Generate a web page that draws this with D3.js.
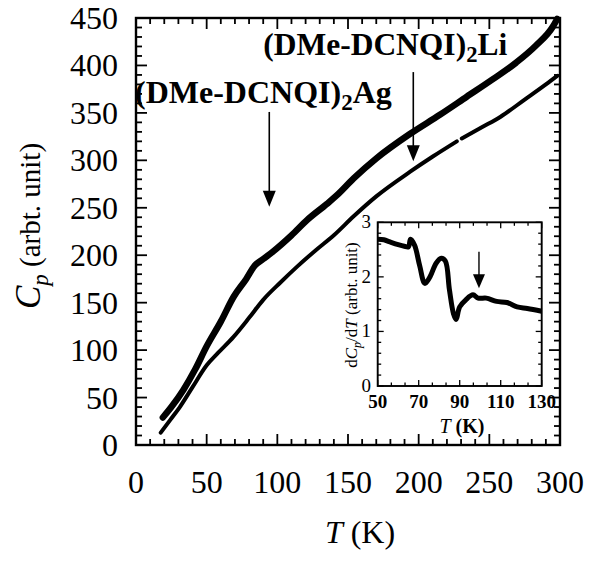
<!DOCTYPE html>
<html lang="en">
<head>
<meta charset="utf-8" />
<title>Cp vs T</title>
<script src="https://d3js.org/d3.v7.min.js"></script>
<style>
	body { margin: 0; background: white; }
	svg text { font-family: "Liberation Serif", "Times New Roman", serif; fill: black; }
</style>
</head>
<body>
<svg width="590" height="563"></svg>
<script>

//	main curves: (DMe-DCNQI)2Li upper (thick), (DMe-DCNQI)2Ag lower (thin)
var upperT = [19, 25, 33.5, 42, 50, 60, 69, 78, 84, 90, 97, 110, 121, 135, 142, 154, 170, 194, 215, 234, 252, 269, 283, 295, 298];
var upperV = [29, 40, 58, 80, 104, 130, 156, 175, 189, 196, 204, 221, 237, 254, 263, 281, 302, 328, 348, 367, 385, 403, 421, 441, 449];

var lowerT = [17.5, 24, 31, 40, 50, 58, 69, 80, 90, 102, 114, 127, 140, 154, 170, 194, 210, 227, null, 230.5, 245, 258, 275, 290, 298];
var lowerV = [13, 26, 40, 61, 84, 97, 114, 134, 153, 171, 188, 205, 221, 241, 262, 288, 304, 320, null, 323, 335, 346, 364, 380, 389];

//	axis ticks
var xMajor = [0, 50, 100, 150, 200, 250, 300];
var yMajor = [0, 50, 100, 150, 200, 250, 300, 350, 400, 450];

//	arrows: T position, start value, tip value
var arrowT = [94.3, 196.2];
var arrowTop = [351, 393];
var arrowTip = [251, 299];

//	inset dCp/dT
var insetT = [50, 53, 56, 60, 63, 65, 66, 68, 70.5, 73, 75.5, 78.5, 81, 83, 85, 87, 88.2, 90, 93, 96.5, 99, 103, 108, 113, 118, 123, 130];
var insetV = [2.69, 2.68, 2.64, 2.59, 2.56, 2.55, 2.69, 2.58, 2.2, 1.88, 2.0, 2.25, 2.34, 2.29, 1.76, 1.32, 1.22, 1.45, 1.58, 1.67, 1.61, 1.61, 1.55, 1.53, 1.45, 1.42, 1.37];
var insetXMajor = [50, 70, 90, 110, 130];
var insetYMajor = [0, 1, 2, 3];
var insetArrow = [99.4, 2.46, 1.79];

var svg = d3.select("svg");

//	main scales
var x = d3.scaleLinear().domain([0, 300]).range([136, 560]);
var y = d3.scaleLinear().domain([0, 450]).range([445, 18]);

function range(a, b, s) { var r = []; for (var v = a; v <= b + 1e-9; v += s) r.push(+v.toFixed(4)); return r; }

//	inward ticks on all four sides of a box, drawn from the scales
function boxTicks(xs, ys, xTicks, yTicks, isMajorX, isMajorY, majLen, minLen, sw) {
	var g = svg.append("g").attr("stroke", "black").attr("stroke-width", sw);
	var x0 = xs.range()[0], x1 = xs.range()[1], y0 = ys.range()[0], y1 = ys.range()[1];
	var lx = d => isMajorX(d) ? majLen : minLen;
	var ly = d => isMajorY(d) ? majLen : minLen;
	g.selectAll(".xb").data(xTicks).join("line").attr("class", "xb")
		.attr("x1", d => xs(d)).attr("x2", d => xs(d)).attr("y1", y0).attr("y2", d => y0 - lx(d));
	g.selectAll(".xt").data(xTicks).join("line").attr("class", "xt")
		.attr("x1", d => xs(d)).attr("x2", d => xs(d)).attr("y1", y1).attr("y2", d => y1 + lx(d));
	g.selectAll(".yl").data(yTicks).join("line").attr("class", "yl")
		.attr("y1", d => ys(d)).attr("y2", d => ys(d)).attr("x1", x0).attr("x2", d => x0 + ly(d));
	g.selectAll(".yr").data(yTicks).join("line").attr("class", "yr")
		.attr("y1", d => ys(d)).attr("y2", d => ys(d)).attr("x1", x1).attr("x2", d => x1 - ly(d));
	svg.append("rect")
		.attr("x", x0).attr("y", y1).attr("width", x1 - x0).attr("height", y0 - y1)
		.attr("fill", "none").attr("stroke", "black").attr("stroke-width", sw + 0.6);
}

boxTicks(x, y, range(0, 300, 10), range(0, 450, 10),
	d => d % 50 === 0, d => d % 50 === 0, 11, 6, 1.8);

//	tick labels
svg.append("g").selectAll("text").data(xMajor).join("text")
	.attr("x", d => x(d)).attr("y", 493)
	.attr("text-anchor", "middle").attr("font-size", 32)
	.text(d => d);
svg.append("g").selectAll("text").data(yMajor).join("text")
	.attr("x", 118).attr("y", d => y(d) + 11)
	.attr("text-anchor", "end").attr("font-size", 32)
	.text(d => d);

//	axis titles
var xt = svg.append("text").attr("x", 360).attr("y", 543).attr("text-anchor", "middle").attr("font-size", 32);
xt.append("tspan").attr("font-style", "italic").text("T");
xt.append("tspan").text(" (K)");

var yt = svg.append("text").attr("transform", "translate(40,226) rotate(-90)")
	.attr("text-anchor", "middle").attr("font-size", 29);
yt.append("tspan").attr("font-style", "italic").attr("font-size", 35).text("C");
yt.append("tspan").attr("font-style", "italic").attr("font-size", 23).attr("dy", 8).text("p");
yt.append("tspan").attr("dy", -8).text(" (arbt. unit)");

//	curves
function series(T, V) { return T.map((t, i) => ({ t: t, v: V[i] })); }
var line = d3.line()
	.defined(d => d.t !== null)
	.x(d => x(d.t)).y(d => y(d.v))
	.curve(d3.curveMonotoneX);

svg.append("path").datum(series(lowerT, lowerV))
	.attr("d", line).attr("fill", "none").attr("stroke", "black")
	.attr("stroke-width", 4).attr("stroke-linecap", "round").attr("stroke-linejoin", "round");
svg.append("path").datum(series(upperT, upperV))
	.attr("d", line).attr("fill", "none").attr("stroke", "black")
	.attr("stroke-width", 6.5).attr("stroke-linecap", "round").attr("stroke-linejoin", "round");

//	arrows
function arrow(px, y0, y1, w, h, sw) {
	svg.append("line").attr("x1", px).attr("x2", px).attr("y1", y0).attr("y2", y1 - h + 1)
		.attr("stroke", "black").attr("stroke-width", sw);
	svg.append("path")
		.attr("d", "M" + (px - w / 2) + "," + (y1 - h) + "L" + (px + w / 2) + "," + (y1 - h) + "L" + px + "," + y1 + "Z")
		.attr("fill", "black");
}
arrowT.forEach((t, i) => arrow(x(t), y(arrowTop[i]), y(arrowTip[i]), 13, 16, 1.6));

//	compound labels
function label(px, py, fs, ion) {
	var t = svg.append("text").attr("x", px).attr("y", py)
		.attr("font-size", fs).attr("font-weight", "bold");
	t.append("tspan").text("(DMe-DCNQI)");
	t.append("tspan").attr("font-size", fs * 0.72).attr("dy", 7).text("2");
	t.append("tspan").attr("dy", -7).text(ion);
}
label(x(0) - 1, y(360), 32, "Ag");
label(x(90), y(411), 31.5, "Li");

//	inset
var ix = d3.scaleLinear().domain([50, 130]).range([377.7, 541.7]);
var iy = d3.scaleLinear().domain([0, 3]).range([386, 222.3]);

svg.append("rect")
	.attr("x", 377.7).attr("y", 222.3).attr("width", 164).attr("height", 163.7)
	.attr("fill", "white");

boxTicks(ix, iy, range(50, 130, 20 / 3), range(0, 3, 0.2),
	d => Math.abs((d - 50) % 20) < 1e-3 || Math.abs((d - 50) % 20 - 20) < 1e-3,
	d => Math.abs(d - Math.round(d)) < 1e-6, 6, 3.5, 1.3);

svg.append("g").selectAll("text").data(insetXMajor).join("text")
	.attr("x", d => ix(d)).attr("y", 408)
	.attr("text-anchor", "middle").attr("font-size", 19).attr("font-weight", "bold")
	.text(d => d);
svg.append("g").selectAll("text").data(insetYMajor).join("text")
	.attr("x", 371).attr("y", d => iy(d) + 6)
	.attr("text-anchor", "end").attr("font-size", 19)
	.text(d => d);

var ixt = svg.append("text").attr("x", 462).attr("y", 433).attr("text-anchor", "middle").attr("font-size", 20);
ixt.append("tspan").attr("font-style", "italic").text("T");
ixt.append("tspan").attr("font-weight", "bold").text(" (K)");

var iyt = svg.append("text").attr("transform", "translate(357,305) rotate(-90)")
	.attr("text-anchor", "middle").attr("font-size", 17);
iyt.append("tspan").text("d");
iyt.append("tspan").attr("font-style", "italic").text("C");
iyt.append("tspan").attr("font-style", "italic").attr("font-size", 12).attr("dy", 4).text("p");
iyt.append("tspan").attr("dy", -4).text("/d");
iyt.append("tspan").attr("font-style", "italic").text("T");
iyt.append("tspan").text(" (arbt. unit)");

var iline = d3.line().x(d => ix(d.t)).y(d => iy(d.v)).curve(d3.curveCatmullRom);
svg.append("path").datum(series(insetT, insetV))
	.attr("d", iline).attr("fill", "none").attr("stroke", "black")
	.attr("stroke-width", 5).attr("stroke-linejoin", "round");

arrow(ix(insetArrow[0]), iy(insetArrow[1]), iy(insetArrow[2]), 12, 14, 1.4);

</script>
</body>
</html>
